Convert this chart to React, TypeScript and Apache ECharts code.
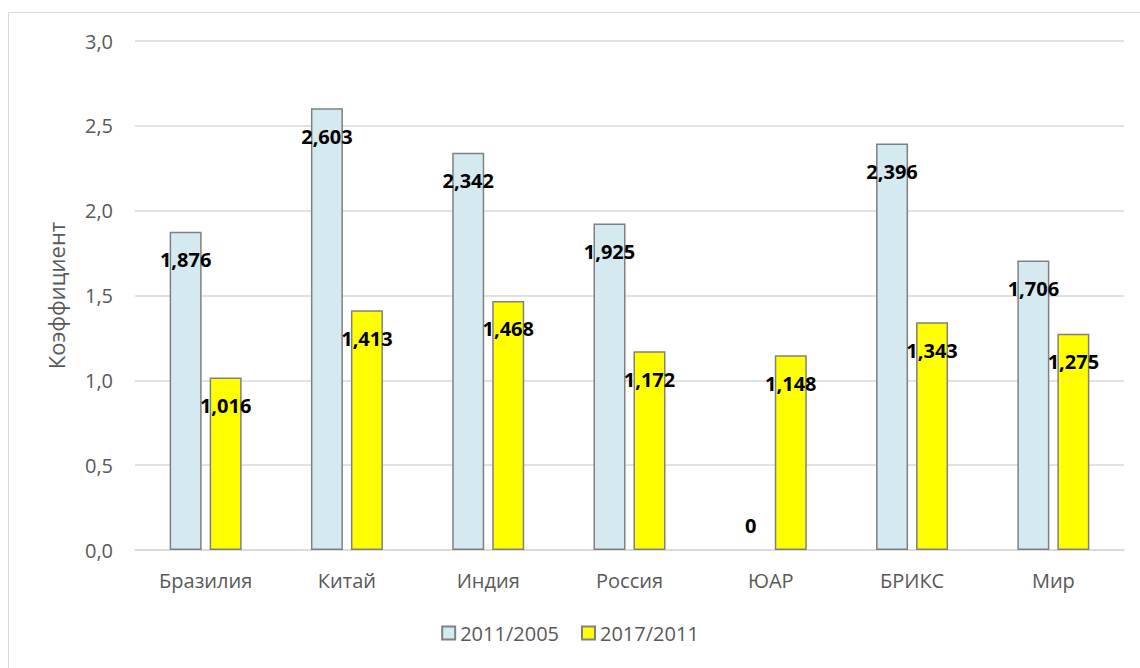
import React, { useEffect, useRef } from "react";
import * as echarts from "echarts";

const categories = ["Бразилия", "Китай", "Индия", "Россия", "ЮАР", "БРИКС", "Мир"];
const series2011_2005 = [1.876, 2.603, 2.342, 1.925, 0, 2.396, 1.706];
const series2017_2011 = [1.016, 1.413, 1.468, 1.172, 1.148, 1.343, 1.275];
const seriesNames = ["2011/2005", "2017/2011"];
const yTicks = { min: 0, max: 3, interval: 0.5 };

const FONT = "'Open Sans', 'Noto Sans', sans-serif";

const fmt = (v: number) => (v === 0 ? "0" : v.toFixed(3).replace(".", ","));

export default function App() {
  const ref = useRef<HTMLDivElement>(null);
  useEffect(() => {
    document.body.style.margin = "0";
    const chart = echarts.init(ref.current!, null, { renderer: "svg" });
    const labelBase = {
      show: true,
      position: "insideTop",
      distance: 18,
      color: "#000",
      fontWeight: "bold",
      fontSize: 20,
      fontFamily: FONT,
      formatter: (p: any) => fmt(p.value),
    };
    const mkData = (arr: number[]) =>
      arr.map((v) =>
        v === 0
          ? {
              value: v,
              itemStyle: { borderWidth: 0 },
              label: { position: "top", distance: 15 },
            }
          : v
      );
    chart.setOption({
      animation: false,
      backgroundColor: "#fff",
      textStyle: { fontFamily: FONT },
      graphic: [
        {
          type: "rect",
          shape: { x: 8.5, y: 12.5, width: 1140, height: 700 },
          style: { fill: "none", stroke: "#d9d9d9", lineWidth: 1 },
          silent: true,
          z: -1,
        },
      ],
      grid: { left: 135, right: 16, top: 41, bottom: 118, containLabel: false },
      legend: {
        bottom: 20,
        left: "center",
        icon: "rect",
        itemWidth: 13,
        itemHeight: 13,
        itemGap: 22,
        textStyle: { color: "#595959", fontSize: 20, fontFamily: FONT },
        data: seriesNames,
      },
      xAxis: {
        type: "category",
        data: categories,
        axisLine: { lineStyle: { color: "#d9d9d9", width: 1.5 } },
        axisTick: { show: false },
        axisLabel: { color: "#595959", fontSize: 20, margin: 20, fontFamily: FONT },
      },
      yAxis: {
        type: "value",
        min: yTicks.min,
        max: yTicks.max,
        interval: yTicks.interval,
        name: "Коэффициент",
        nameLocation: "middle",
        nameGap: 68,
        nameTextStyle: { color: "#595959", fontSize: 22, fontFamily: FONT },
        axisLine: { show: false },
        axisTick: { show: false },
        splitLine: { lineStyle: { color: "#d9d9d9", width: 1.5 } },
        axisLabel: {
          color: "#595959",
          fontSize: 20,
          margin: 22,
          fontFamily: FONT,
          formatter: (v: number) => v.toFixed(1).replace(".", ","),
        },
      },
      series: [
        {
          name: seriesNames[0],
          type: "bar",
          data: mkData(series2011_2005),
          barWidth: 32,
          barGap: "25%",
          itemStyle: { color: "#d5e9f0", borderColor: "#808080", borderWidth: 1.5 },
          label: labelBase,
        },
        {
          name: seriesNames[1],
          type: "bar",
          data: mkData(series2017_2011),
          barWidth: 32,
          barGap: "25%",
          itemStyle: { color: "#ffff00", borderColor: "#808080", borderWidth: 1.5 },
          label: labelBase,
        },
      ],
    });
    return () => chart.dispose();
  }, []);
  return <div ref={ref} style={{ width: 1140, height: 668 }} />;
}
